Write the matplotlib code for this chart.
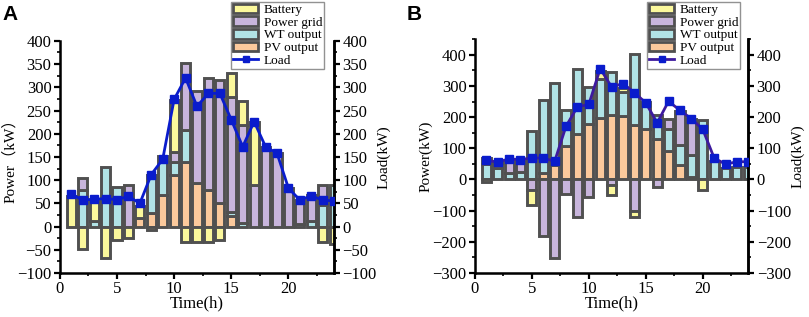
import numpy as np
import matplotlib.pyplot as plt
from matplotlib.patches import Patch
from matplotlib.lines import Line2D
from matplotlib.ticker import MultipleLocator

hours = np.arange(1, 25)

# Panel A
pv_a = [0, 0, 0, 0, 0, 0, 18, 30, 68, 110, 138, 93, 79, 50, 22, 0, 0, 0, 0, 0, 0, 0, 0, 0]
wt_a = [0, 78, 12, 128, 86, 0, 0, 82, 85, 30, 70, 0, 0, 0, 9, 8, 0, 0, 0, 0, 5, 12, 47, 90]
grid_a = [0, 27, 0, 0, 0, 90, 0, 0, 0, 20, 145, 198, 242, 265, 248, 211, 90, 172, 158, 83, 52, 55, 43, 0]
bat_a = [66, -48, 45, -68, -28, -25, 27, -8, 0, 113, -34, -34, -34, -30, 51, 52, 136, 0, 0, 0, 0, 0, -34, -38]
load_a = [70, 57, 59, 60, 58, 65, 50, 112, 145, 274, 320, 259, 287, 287, 230, 172, 226, 172, 158, 83, 57, 66, 57, 55]

# Panel B
pv_b = [0, 0, 0, 0, 0, 21, 47, 109, 147, 179, 197, 208, 204, 176, 163, 131, 90, 47, 8, 0, 0, 0, 0, 0]
wt_b = [50, 38, 22, 25, 155, 233, 264, 113, 207, 118, 127, 137, 77, 228, 86, 75, 73, 64, 71, 190, 58, 38, 40, 40]
grid_b = [20, 14, 40, 35, -33, -182, -253, -46, -121, -57, 0, -19, 0, -100, 0, -25, 30, 108, 116, 0, 0, 0, 0, 0]
bat_b = [-8, 8, 0, 0, -50, 0, 0, 0, 0, 0, 25, -30, 13, -21, 0, 0, 0, 0, 0, -35, 0, 0, 0, 0]
load_b = [61, 56, 66, 64, 69, 69, 58, 171, 233, 241, 356, 297, 308, 279, 246, 182, 251, 222, 195, 161, 69, 49, 57, 57]

c_bat = '#fbf89c'
c_grid = '#c8b5dc'
c_wt = '#b1e3e6'
c_pv = '#fbc99c'
edge = '#505050'

serif = ['Liberation Serif', 'Noto Sans CJK SC']
plt.rcParams['font.family'] = serif
plt.rcParams['font.size'] = 12

fig = plt.figure(figsize=(8.09, 3.17), dpi=100)


def bars(ax, x, h, bottom, color):
    h = np.asarray(h, float)
    m = h != 0
    ax.bar(x[m], h[m], bottom=np.asarray(bottom, float)[m], width=0.8,
           color=color, edgecolor=edge, linewidth=2.1, zorder=2)


def panel(ax, pv, wt, grid, bat, load, ylim, step, line_c, ylabel):
    pv, wt, grid, bat = (np.asarray(v, float) for v in (pv, wt, grid, bat))
    gpos = np.clip(grid, 0, None)
    gneg = np.clip(grid, None, 0)
    bars(ax, hours, pv, np.zeros(24), c_pv)
    bars(ax, hours, wt, pv, c_wt)
    bars(ax, hours, gpos, pv + wt, c_grid)
    bars(ax, hours, gneg, np.zeros(24), c_grid)
    bpos = np.clip(bat, 0, None)
    bneg = np.clip(bat, None, 0)
    bars(ax, hours, bpos, pv + wt + gpos, c_bat)
    bars(ax, hours, bneg, gneg, c_bat)

    ax.set_xlim(0, 24)
    ax.set_ylim(*ylim)
    ax.xaxis.set_major_locator(MultipleLocator(5))
    ax.xaxis.set_minor_locator(MultipleLocator(2.5))
    ax.yaxis.set_major_locator(MultipleLocator(step))
    ax.yaxis.set_minor_locator(MultipleLocator(step / 2))
    ax.spines['top'].set_visible(False)
    for s in ('left', 'bottom', 'right'):
        ax.spines[s].set_linewidth(1.8)
    ax.tick_params(which='major', direction='out', length=4, width=1.6, labelsize=12, pad=2)
    ax.tick_params(which='minor', direction='out', length=2.5, width=1.2)
    ax.set_xlabel('Time(h)', fontsize=12, labelpad=-1)
    ax.set_ylabel(ylabel, fontsize=11, labelpad=0)

    ax2 = ax.twinx()
    ax2.set_ylim(*ylim)
    ax2.yaxis.set_major_locator(MultipleLocator(step))
    ax2.yaxis.set_minor_locator(MultipleLocator(step / 2))
    ax2.spines['top'].set_visible(False)
    ax2.spines['right'].set_linewidth(1.8)
    ax2.tick_params(which='major', direction='out', length=4, width=1.6, labelsize=12, pad=2)
    ax2.tick_params(which='minor', direction='out', length=2.5, width=1.2)
    ax2.plot(hours, load, color=line_c, lw=2, marker='s', ms=5.5,
             mfc='#0a1ccc', mec='#0a1ccc', zorder=5)
    ax2.set_ylabel('Load(kW)', fontsize=11, labelpad=0)
    return ax2


def legend(ax, x0, line_c):
    handles = [Patch(facecolor=c_bat, edgecolor=edge, linewidth=2, label='Battery'),
               Patch(facecolor=c_grid, edgecolor=edge, linewidth=2, label='Power grid'),
               Patch(facecolor=c_wt, edgecolor=edge, linewidth=2, label='WT output'),
               Patch(facecolor=c_pv, edgecolor=edge, linewidth=2, label='PV output'),
               Line2D([], [], color=line_c, lw=2, marker='s', ms=5,
                      mfc='#0a1ccc', mec='#0a1ccc', label='Load')]
    leg = ax.legend(handles=handles, loc='upper left', bbox_to_anchor=(x0, 0.995),
                    bbox_transform=fig.transFigure, fontsize=9.5, frameon=True,
                    fancybox=False, edgecolor='#777777', borderpad=0.15,
                    labelspacing=0.02, handlelength=1.9, handleheight=0.75,
                    handletextpad=0.4, borderaxespad=0)
    leg.get_frame().set_linewidth(1.0)
    leg.set_zorder(10)


ax_a = fig.add_axes([0.074, 0.139, 0.339, 0.732])
ax2a = panel(ax_a, pv_a, wt_a, grid_a, bat_a, load_a, (-100, 400), 50, '#0a1ccc', 'Power（kW）')
legend(ax2a, 0.286, '#0a1ccc')

ax_b = fig.add_axes([0.587, 0.139, 0.338, 0.737])
ax2b = panel(ax_b, pv_b, wt_b, grid_b, bat_b, load_b, (-300, 450), 100, '#3d1a9e', 'Power(kW)')
legend(ax2b, 0.8, '#3d1a9e')

fig.text(0.003, 0.985, 'A', fontsize=15, fontweight='bold', family='Liberation Sans', va='top')
fig.text(0.503, 0.985, 'B', fontsize=15, fontweight='bold', family='Liberation Sans', va='top')

fig.savefig('out.png', dpi=100)
